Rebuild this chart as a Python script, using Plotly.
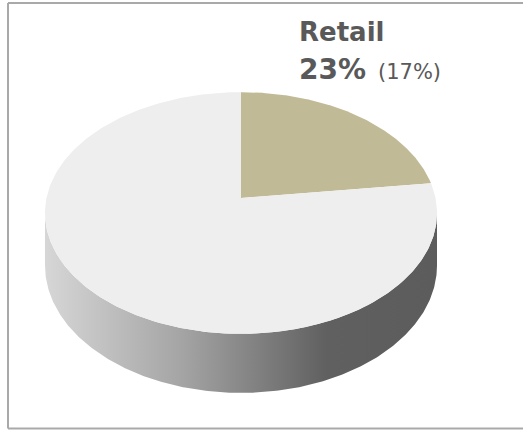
import numpy as np
import plotly.graph_objects as go

# Share of the total by segment (current period) and the prior-period share
segments = ["Retail", "Other"]
shares = [23, 77]
prior_shares = [17, None]
slice_colors = ["#c1ba96", "#eeeeee"]

W, H = 523, 430

# Projection of the tilted disc (screen pixels)
CX, CY = 241.0, 198.0     # centre of the disc on screen
RX, RY = 194.5, 119.0     # horizontal / vertical radii before perspective
K = 0.124                 # perspective strength (far edge shrinks)
DEPTH = 51.7              # thickness of the disc


def project(theta):
    """theta measured clockwise from 12 o'clock."""
    u, v = np.sin(theta), np.cos(theta)
    w = 1.0 + K * v
    return CX + RX * u / w, CY - RY * v / w, w


fig = go.Figure()

# Cylinder wall (front half between the left and right silhouettes)
t_sil = np.arccos(-K)
t_side = np.linspace(t_sil, 2 * np.pi - t_sil, 300)
xs, ys, ws = project(t_side)
xb, yb = xs[::-1], (ys + DEPTH / ws)[::-1]
fig.add_trace(go.Scatter(
    x=np.concatenate([xs, xb, xs[:1]]),
    y=np.concatenate([ys, yb, ys[:1]]),
    mode="lines", line=dict(width=0), fill="toself",
    fillgradient=dict(
        type="horizontal",
        colorscale=[[0.0, "#d6d6d6"], [0.35, "#a4a4a4"], [0.72, "#606060"], [1.0, "#5c5c5c"]],
        start=CX - RX, stop=CX + RX,
    ),
    hoverinfo="skip", showlegend=False,
))

# Top face slices
total = float(sum(shares))
start = 0.0
for name, val, col in zip(segments, shares, slice_colors):
    end = start + 2 * np.pi * val / total
    t = np.linspace(start, end, 300)
    ax, ay, _ = project(t)
    fig.add_trace(go.Scatter(
        x=np.concatenate([[CX], ax, [CX]]),
        y=np.concatenate([[CY], ay, [CY]]),
        mode="lines", line=dict(width=0), fill="toself", fillcolor=col,
        name=name, hoverinfo="name", showlegend=False,
    ))
    start = end

txt = "#595959"
fig.add_annotation(
    x=297, y=32, xref="x", yref="y", xanchor="left", yanchor="middle",
    text=f"<b>{segments[0]}</b>", showarrow=False,
    font=dict(family="DejaVu Sans", size=26, color=txt),
)
fig.add_annotation(
    x=297, y=69, xref="x", yref="y", xanchor="left", yanchor="middle",
    text=f"<b>{shares[0]}%</b>", showarrow=False,
    font=dict(family="DejaVu Sans", size=28, color=txt),
)
fig.add_annotation(
    x=376, y=71.5, xref="x", yref="y", xanchor="left", yanchor="middle",
    text=f"({prior_shares[0]}%)", showarrow=False,
    font=dict(family="DejaVu Sans", size=21, color=txt),
)

# Panel frame (left, top and bottom edges)
frame = dict(color="#a9a9a9", width=2)
for x0, y0, x1, y1 in [(8, 3, 8, 428.5), (8, 3, W, 3), (8, 428.5, W, 428.5)]:
    fig.add_shape(type="line", x0=x0, y0=y0, x1=x1, y1=y1, xref="x", yref="y",
                  line=frame, layer="above")

fig.update_layout(
    width=W, height=H, margin=dict(l=0, r=0, t=0, b=0),
    paper_bgcolor="white", plot_bgcolor="white",
    xaxis=dict(range=[0, W], visible=False, fixedrange=True),
    yaxis=dict(range=[H, 0], visible=False, fixedrange=True),
)

fig.write_html("out.html")
